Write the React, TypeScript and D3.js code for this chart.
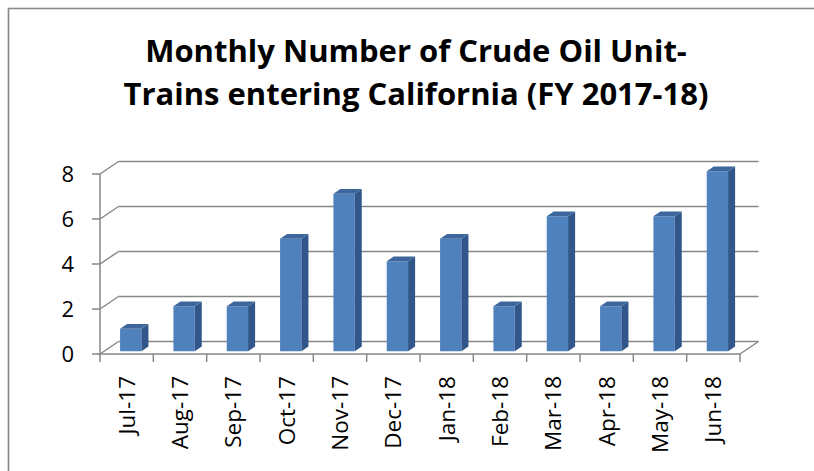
import React from "react";
import * as d3 from "d3";

// chart data
const months = ["Jul-17", "Aug-17", "Sep-17", "Oct-17", "Nov-17", "Dec-17", "Jan-18", "Feb-18", "Mar-18", "Apr-18", "May-18", "Jun-18"];
const trains = [1, 2, 2, 5, 7, 4, 5, 2, 6, 2, 6, 8];
const yTicks = [0, 2, 4, 6, 8];
const titleLines = ["Monthly Number of Crude Oil Unit-", "Trains entering California (FY 2017-18)"];

const FONT = "'Open Sans', Lato, sans-serif";
const GRID = "#878787";

// 3d depth offset of the back wall
const DX = 18.5;
const DY = -12.5;
const D0 = 0.22; // bar front depth
const D1 = 0.6; // bar back depth

const App = () => {
  const x = d3.scaleBand().domain(months).range([100, 740]).padding(0);
  const y = d3.scaleLinear().domain([0, 8]).range([354, 174]);
  const bw = x.bandwidth();

  const pt = (px: number, v: number, d: number) => `${px + DX * d},${y(v) + DY * d}`;

  return (
    <svg width={814} height={471} style={{ position: "absolute", left: 0, top: 0, display: "block" }}>
      <rect x={0} y={0} width={814} height={471} fill="#fff" />
      <rect x={8.5} y={8.5} width={900} height={900} fill="none" stroke="#888" strokeWidth={1.6} />

      {/* title */}
      {titleLines.map((t, i) => (
        <text key={t} x={416} y={62 + i * 43} textAnchor="middle" fontFamily={FONT} fontWeight="bold" fontSize={31} fill="#000">
          {t}
        </text>
      ))}

      {/* back wall gridlines + side wall diagonals */}
      {yTicks.map((v) => (
        <g key={v} stroke={GRID} strokeWidth={1.5} fill="none">
          <line x1={100 + DX} x2={740 + DX} y1={y(v) + DY} y2={y(v) + DY} />
          <line x1={100} y1={y(v)} x2={100 + DX} y2={y(v) + DY} />
          <line x1={92} x2={100} y1={y(v)} y2={y(v)} />
        </g>
      ))}
      {/* vertical axis + floor */}
      <g stroke={GRID} strokeWidth={1.5} fill="none">
        <line x1={100} x2={100} y1={y(8)} y2={y(0)} />
        <line x1={100} x2={740} y1={y(0)} y2={y(0)} />
        <line x1={740} y1={y(0)} x2={740 + DX} y2={y(0) + DY} />
        {d3.range(months.length + 1).map((i) => (
          <line key={i} x1={100 + i * bw} x2={100 + i * bw} y1={y(0)} y2={y(0) + 8} />
        ))}
      </g>

      {/* bars */}
      {months.map((m, i) => {
        const v = trains[i];
        const l = (x(m) as number) + bw * 0.3;
        const r = l + bw * 0.4;
        return (
          <g key={m}>
            <polygon points={[pt(l, 0, D0), pt(r, 0, D0), pt(r, v, D0), pt(l, v, D0)].join(" ")} fill="#4F81BD" />
            <polygon points={[pt(r, 0, D0), pt(r, 0, D1), pt(r, v, D1), pt(r, v, D0)].join(" ")} fill="#31578A" />
            <polygon points={[pt(l, v, D0), pt(r, v, D0), pt(r, v, D1), pt(l, v, D1)].join(" ")} fill="#3D679C" />
          </g>
        );
      })}

      {/* y labels */}
      {yTicks.map((v) => (
        <text key={v} x={74} y={y(v)} dy="0.36em" textAnchor="end" fontFamily={FONT} fontSize={22} fill="#000">
          {v}
        </text>
      ))}

      {/* category labels */}
      {months.map((m) => (
        <text
          key={m}
          transform={`translate(${(x(m) as number) + bw / 2},376) rotate(-90)`}
          dy="0.36em"
          textAnchor="end"
          fontFamily={FONT}
          fontSize={22.5}
          fill="#000"
        >
          {m}
        </text>
      ))}
    </svg>
  );
};

export default App;
